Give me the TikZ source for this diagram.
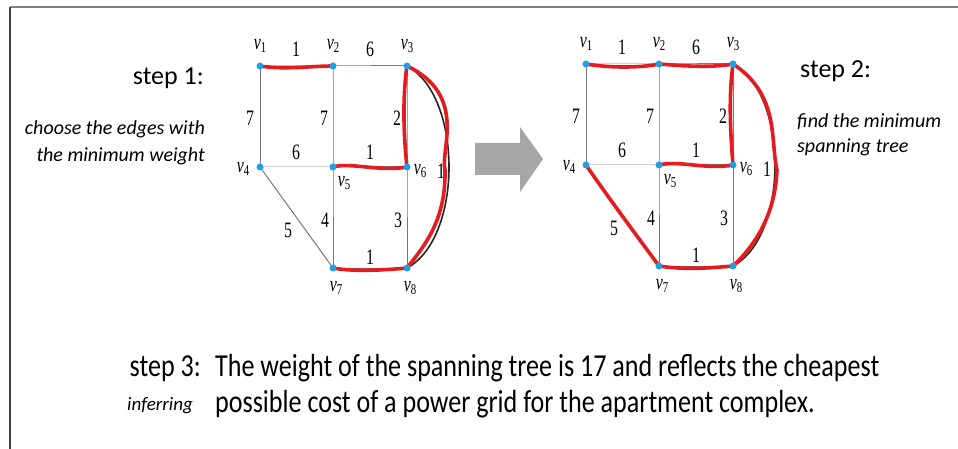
\documentclass[tikz,border=0pt]{standalone}
\usepackage{fontspec}
\setmainfont{Carlito}
\newfontfamily\gfont{Liberation Serif}
\usetikzlibrary{calc}
\definecolor{dotblue}{RGB}{30,160,230}
\definecolor{hred}{RGB}{228,28,32}
\definecolor{edgegray}{RGB}{120,120,120}
\definecolor{arrowgray}{RGB}{166,166,166}
\tikzset{
  vdot/.style={circle,fill=dotblue,inner sep=0pt,minimum size=7pt},
  glabel/.style={font=\gfont\fontsize{22}{22}\selectfont,inner sep=0pt,xscale=0.72},
  edgeline/.style={draw=edgegray,line width=1pt},
  redline/.style={draw=hred,line width=3.6pt,line cap=round,line join=round},
  arcline/.style={draw=black!85,line width=1.6pt},
  steptitle/.style={font=\fontsize{26}{26}\selectfont,inner sep=0pt},
  stepnote/.style={font=\itshape\fontsize{20}{20}\selectfont,inner sep=0pt,xscale=1.0},
  bigtext/.style={font=\fontsize{32}{32}\selectfont,inner sep=0pt,xscale=0.815},
}
\newcommand{\vlab}[1]{\itshape v\raisebox{-0.35ex}{\fontsize{15}{15}\selectfont\upshape #1}}
\newcommand{\graphnodes}[3]{%
  \begin{scope}[shift={(#2,#3)}]
    \coordinate (#1c1) at (0,0);
    \coordinate (#1c2) at (73,0);
    \coordinate (#1c3) at (147,0);
    \coordinate (#1c4) at (0,101);
    \coordinate (#1c5) at (73,101);
    \coordinate (#1c6) at (147,101);
    \coordinate (#1c7) at (73,202);
    \coordinate (#1c8) at (147,202);
    \node[glabel] (#1l1) at (0,-20) {\vlab{1}};
    \node[glabel] (#1l2) at (73,-20) {\vlab{2}};
    \node[glabel] (#1l3) at (147,-20) {\vlab{3}};
    \node[glabel] (#1l4) at (-17,103) {\vlab{4}};
    \node[glabel] (#1l5) at (84,117) {\vlab{5}};
    \node[glabel] (#1l6) at (160,105) {\vlab{6}};
    \node[glabel] (#1l7) at (76,222) {\vlab{7}};
    \node[glabel] (#1l8) at (150,222) {\vlab{8}};
    \node[glabel] (#1w12) at (36,-17) {1};
    \node[glabel] (#1w23) at (110,-17) {6};
    \node[glabel] (#1w14) at (-10,52) {7};
    \node[glabel] (#1w25) at (64,52) {7};
    \node[glabel] (#1w36) at (137,52) {2};
    \node[glabel] (#1w45) at (36,86) {6};
    \node[glabel] (#1w56) at (110,86) {1};
    \node[glabel] (#1w38) at (181,105) {1};
    \node[glabel] (#1w47) at (28,164) {5};
    \node[glabel] (#1w57) at (65,154) {4};
    \node[glabel] (#1w68) at (138,154) {3};
    \node[glabel] (#1w78) at (110,191) {1};
  \end{scope}
}
\newcommand{\graphedges}[1]{%
  \draw[edgeline] (#1c1) -- (#1c2) -- (#1c3);
  \draw[edgeline] (#1c4) -- (#1c5) -- (#1c6);
  \draw[edgeline] (#1c7) -- (#1c8);
  \draw[edgeline] (#1c1) -- (#1c4);
  \draw[edgeline] (#1c2) -- (#1c5) -- (#1c7);
  \draw[edgeline] (#1c3) -- (#1c6) -- (#1c8);
  \draw[edgeline] (#1c4) -- (#1c7);
  \draw[arcline] (#1c3) .. controls ($(#1c3)+(56,30)$) and ($(#1c8)+(56,-30)$) .. (#1c8);
}
\newcommand{\graphdots}[1]{%
  \foreach \i in {1,...,8} {\node[vdot] (#1n\i) at (#1c\i) {};}
}
\begin{document}
\begin{tikzpicture}[x=1pt,y=-1pt]
\useasboundingbox (0,0) rectangle (958,449);
\fill[white] (0,0) rectangle (958,449);
% frame
\coordinate (ftr) at (958,7);
\coordinate (ftl) at (10,7);
\coordinate (fbl) at (10,449);
\draw[draw=gray,line width=1.6pt] (ftr) -- (ftl);
\draw[draw=black!75,line width=1.4pt] (ftl) -- (fbl);

% graph 1
\graphnodes{a}{260}{66}
\graphedges{a}
\draw[redline] (ac1) .. controls (285,70) and (310,66) .. (ac2);
\draw[redline] (ac3) .. controls (402,100) and (404,140) .. (ac6);
\draw[redline] (ac5) .. controls (350,162) and (380,172) .. (ac6);
\draw[redline] (ac7) .. controls (355,272) and (385,270) .. (ac8);
\draw[redline] (ac3) .. controls (468,95) and (440,150) .. (445,170) .. controls (446,220) and (425,245) .. (ac8);
\graphdots{a}

% arrow
\coordinate (ar1) at (475,143);
\fill[arrowgray] (ar1) -- (520,143) -- (520,127) -- (543,159) -- (520,192) -- (520,175) -- (475,175) -- cycle;

% graph 2
\graphnodes{b}{586}{64}
\graphedges{b}
\draw[redline] (bc1) .. controls (610,68) and (640,68) .. (bc2);
\draw[redline] (bc2) .. controls (685,66) and (710,68) .. (bc3);
\draw[redline] (bc3) .. controls (728,100) and (731,140) .. (bc6);
\draw[redline] (bc5) .. controls (680,160) and (705,170) .. (bc6);
\draw[redline] (bc4) .. controls (610,200) and (640,240) .. (bc7);
\draw[redline] (bc7) .. controls (685,270) and (710,268) .. (bc8);
\draw[redline] (bc3) .. controls (780,95) and (770,140) .. (777,170) .. controls (775,220) and (750,250) .. (bc8);
\graphdots{b}

% texts
\node[steptitle,anchor=base east] (s1) at (204,85) {step 1:};
\node[stepnote,anchor=base east] (n1a) at (205,135) {choose the edges with};
\node[stepnote,anchor=base east] (n1b) at (205,162) {the minimum weight};
\node[steptitle,anchor=base west] (s2) at (800,78) {step 2:};
\node[stepnote,anchor=base west] (n2a) at (797,128) {find the minimum};
\node[stepnote,anchor=base west] (n2b) at (797,153) {spanning tree};
\node[bigtext,anchor=base east] (s3) at (201,376) {step 3:};
\node[anchor=base east,inner sep=0pt,font=\itshape\fontsize{19}{19}\selectfont] (inf) at (193,410) {inferring};
\node[bigtext,anchor=base west] (t1) at (215,376) {The weight of the spanning tree is 17 and reflects the cheapest};
\node[bigtext,anchor=base west] (t2) at (215,412) {possible cost of a power grid for the apartment complex.};
\end{tikzpicture}
\end{document}
